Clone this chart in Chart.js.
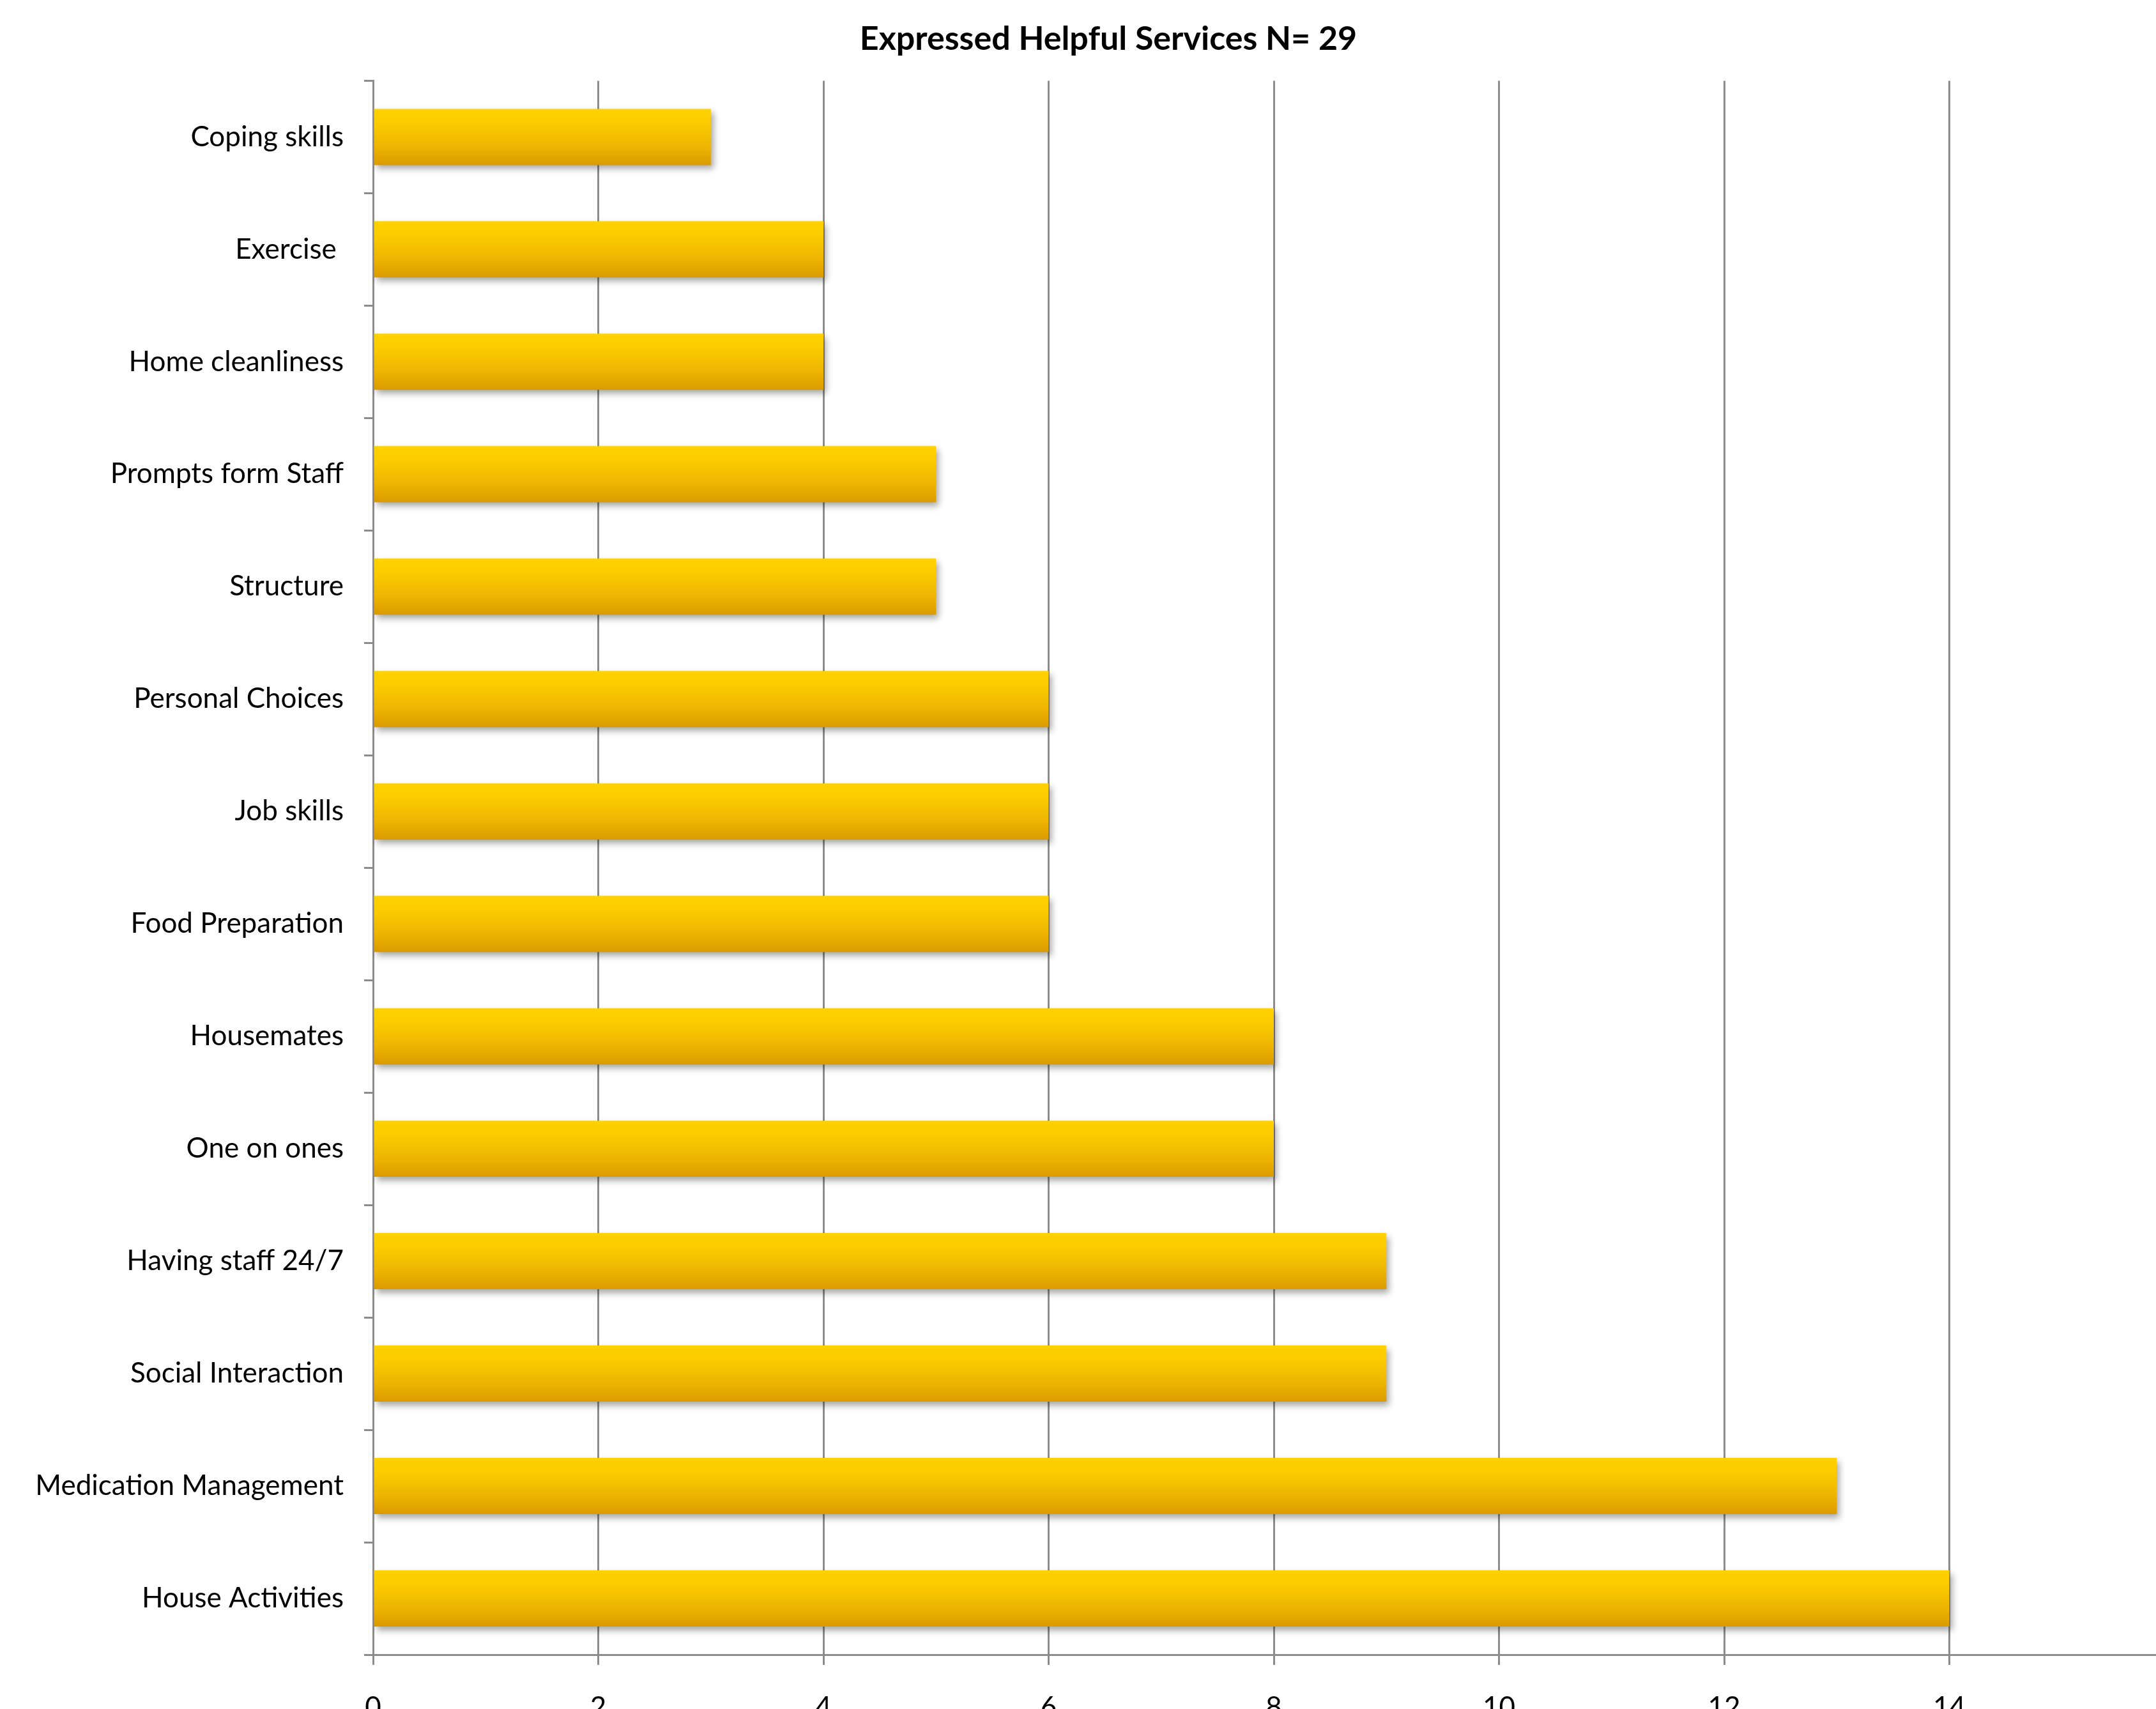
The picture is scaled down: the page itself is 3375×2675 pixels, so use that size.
<!DOCTYPE html>
<html>
<head>
<meta charset="utf-8">
<title>Expressed Helpful Services</title>
<script src="https://cdn.jsdelivr.net/npm/chart.js@4.4.1/dist/chart.umd.min.js"></script>
<style>
  html, body {
    margin: 0;
    padding: 0;
    background: #ffffff;
    overflow: hidden;
    width: 3375px;
    height: 2675px;
  }
  #chart {
    display: block;
  }
</style>
</head>
<body>
<canvas id="chart" width="3470" height="2720"></canvas>
<script>
const chartTitle = "Expressed Helpful Services N= 29";

const services = [
  "Coping skills",
  "Exercise ",
  "Home cleanliness",
  "Prompts form Staff",
  "Structure",
  "Personal Choices",
  "Job skills",
  "Food Preparation",
  "Housemates",
  "One on ones",
  "Having staff 24/7",
  "Social Interaction",
  "Medication Management",
  "House Activities",
];

const counts = [3, 4, 4, 5, 5, 6, 6, 6, 8, 8, 9, 9, 13, 14];

const axisMin = 0;
const axisMax = 16;
const axisStep = 2;

const gridColor = "#8c8c8c";

// gradient per bar, built from the category scale
function barGradient(context) {
  const chart = context.chart;
  const yScale = chart.scales.y;
  if (!yScale || context.dataIndex === undefined) {
    return "#f0b800";
  }
  const center = yScale.getPixelForValue(context.dataIndex);
  const band = Math.abs(yScale.getPixelForValue(1) - yScale.getPixelForValue(0));
  if (!isFinite(center) || !isFinite(band) || band === 0) {
    return "#f0b800";
  }
  const half = band * 0.25;
  const g = chart.ctx.createLinearGradient(0, center - half, 0, center + half);
  g.addColorStop(0, "#ffd200");
  g.addColorStop(0.3, "#fbc900");
  g.addColorStop(0.7, "#ecb300");
  g.addColorStop(1, "#da9a00");
  return g;
}

// soft drop shadow under the bars
const barShadow = {
  id: "barShadow",
  beforeDatasetsDraw(chart) {
    const ctx = chart.ctx;
    ctx.save();
    ctx.shadowColor = "rgba(0, 0, 0, 0.35)";
    ctx.shadowBlur = 10;
    ctx.shadowOffsetX = 4;
    ctx.shadowOffsetY = 6;
  },
  afterDatasetsDraw(chart) {
    chart.ctx.restore();
  },
};

// title sits a bit right of the canvas centre in the original
const titleShift = {
  id: "titleShift",
  afterLayout(chart) {
    const block = chart.titleBlock;
    if (block) {
      block.left = 66;
      block.width = block.right - block.left;
    }
  },
};

const ctx = document.getElementById("chart").getContext("2d");
new Chart(ctx, {
  type: "bar",
  data: {
    labels: services,
    datasets: [
      {
        label: "Count",
        data: counts,
        backgroundColor: barGradient,
        borderWidth: 0,
        barPercentage: 0.5,
        categoryPercentage: 1.0,
      },
    ],
  },
  plugins: [barShadow, titleShift],
  options: {
    indexAxis: "y",
    responsive: false,
    animation: false,
    layout: {
      padding: { left: 0, right: 66, top: 0, bottom: 0 },
    },
    plugins: {
      legend: { display: false },
      tooltip: { enabled: false },
      title: {
        display: true,
        text: chartTitle,
        color: "#000000",
        font: { family: "Lato", size: 52, weight: "bold" },
        padding: { top: 30, bottom: 34 },
      },
    },
    scales: {
      x: {
        type: "linear",
        position: "bottom",
        min: axisMin,
        max: axisMax,
        ticks: {
          stepSize: axisStep,
          color: "#000000",
          font: { family: "Lato", size: 44 },
          padding: 40,
        },
        grid: {
          color: gridColor,
          lineWidth: 3,
          tickLength: 16,
          drawTicks: true,
        },
        border: {
          display: true,
          color: gridColor,
          width: 3,
        },
        afterFit(scale) {
          scale.height = 130;
        },
      },
      y: {
        type: "category",
        ticks: {
          color: "#000000",
          font: { family: "Lato", size: 44 },
          padding: 32,
          autoSkip: false,
        },
        grid: {
          color: gridColor,
          lineWidth: 3,
          tickLength: 14,
          drawOnChartArea: false,
          offset: true,
        },
        border: {
          display: true,
          color: gridColor,
          width: 3,
        },
        afterFit(scale) {
          scale.width = 584;
        },
      },
    },
  },
});
</script>
</body>
</html>
